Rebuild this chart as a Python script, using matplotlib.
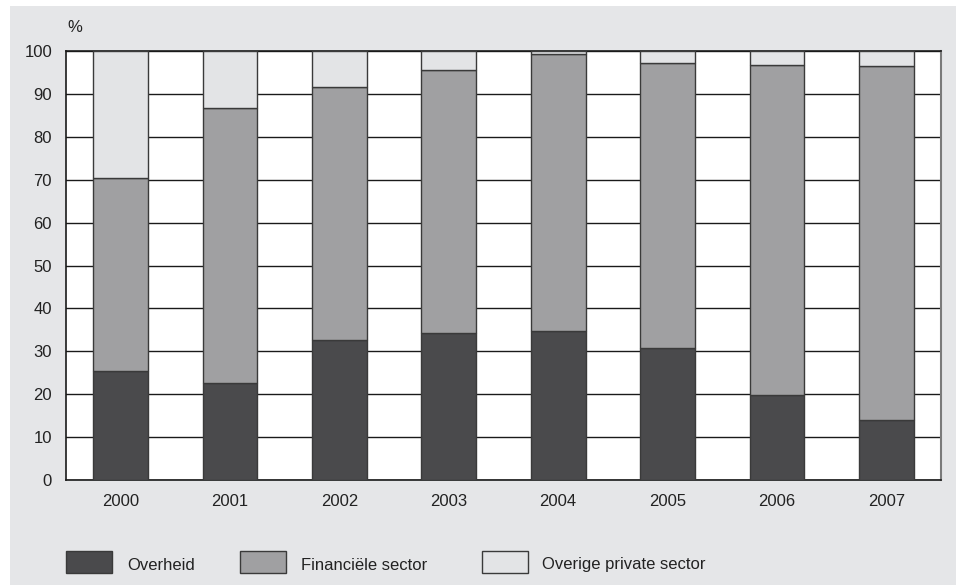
import matplotlib
matplotlib.use("Agg")
import matplotlib.pyplot as plt
from matplotlib.patches import Rectangle
import numpy as np

plt.rcParams['font.family'] = ['Liberation Sans', 'DejaVu Sans']

years = ['2000', '2001', '2002', '2003', '2004', '2005', '2006', '2007']
overheid = [25.3, 22.5, 32.7, 34.2, 34.8, 30.8, 19.8, 14.0]
financieel = [45.2, 64.2, 59.0, 61.4, 64.6, 66.5, 77.0, 82.5]
overig = [29.5, 13.3, 8.3, 4.4, 0.6, 2.7, 3.2, 3.5]
series_names = ['Overheid', 'Financiële sector', 'Overige private sector']
series_colors = ['#4a4a4c', '#a0a0a2', '#e3e4e6']
y_ticks = [0, 10, 20, 30, 40, 50, 60, 70, 80, 90, 100]

bg = '#e5e6e8'
edge = '#3a3a3a'
fs = 12

fig = plt.figure(figsize=(9.56, 5.85), dpi=100)
fig.patch.set_facecolor('white')
# grey panel behind the chart
fig.patches.append(Rectangle((10 / 956, 0), 946 / 956, 579 / 585,
                             transform=fig.transFigure, facecolor=bg,
                             edgecolor='none', zorder=-5))

ax = fig.add_axes([66 / 956, (585 - 480) / 585, 875 / 956, 429 / 585])
ax.set_facecolor('white')
ax.set_zorder(1)

x = np.arange(len(years))
bottom = np.zeros(len(years))
for vals, color in zip([overheid, financieel, overig], series_colors):
    ax.bar(x, vals, width=0.5, bottom=bottom, color=color,
           edgecolor=edge, linewidth=1.0, zorder=3)
    bottom += np.array(vals)

ax.set_xlim(-0.5, len(years) - 0.5)
ax.set_ylim(0, 100)
ax.set_yticks(y_ticks)
ax.set_xticks(x)
ax.set_xticklabels(years)
ax.tick_params(axis='both', length=0, labelsize=fs, colors='#222222', pad=10)
ax.tick_params(axis='x', pad=10)
ax.yaxis.grid(True, color='#1a1a1a', linewidth=1.0, zorder=1)
ax.set_axisbelow(True)
for side in ['left', 'bottom', 'top']:
    ax.spines[side].set_color('#1a1a1a')
    ax.spines[side].set_linewidth(1.2)
ax.spines['right'].set_color('#7a7a7a')
ax.spines['right'].set_linewidth(1.5)

fig.text(75 / 956, 1 - 27 / 585, '%', fontsize=fs, color='#222222',
         ha='center', va='center', zorder=2)

# legend drawn along the bottom of the panel
legend_items = [(66, 127), (240, 301), (482, 542)]
for (px, tx), name, color in zip(legend_items, series_names, series_colors):
    fig.patches.append(Rectangle((px / 956, 1 - 573 / 585), 46 / 956, 22 / 585,
                                 transform=fig.transFigure, facecolor=color,
                                 edgecolor='#3a3a3a', linewidth=1.0, zorder=2))
    fig.text(tx / 956, 1 - 565 / 585, name, fontsize=fs, color='#222222',
             ha='left', va='center', zorder=2)

fig.savefig('out.png', dpi=100, facecolor=fig.get_facecolor())
